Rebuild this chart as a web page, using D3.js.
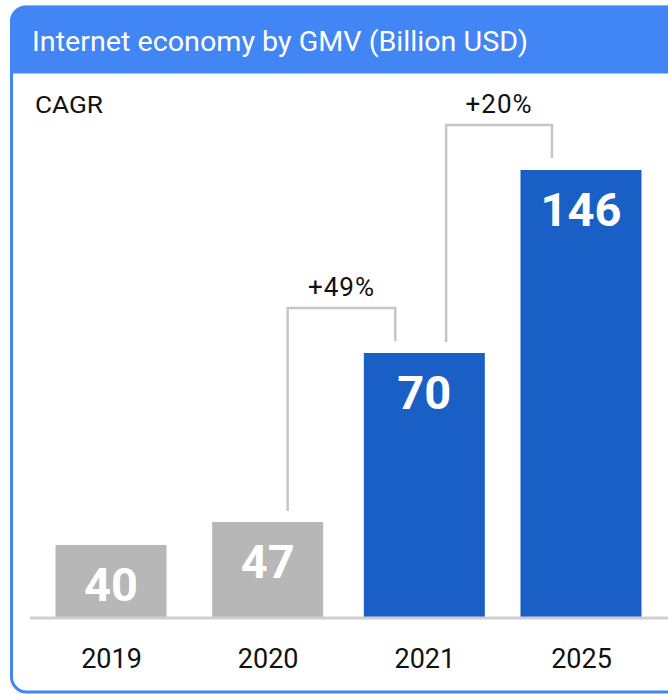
<!DOCTYPE html>
<html><head><meta charset="utf-8">
<script src="https://cdn.jsdelivr.net/npm/d3@7"></script>
<style>body{margin:0;background:#fff;overflow:hidden}</style>
</head><body>
<svg id="c" width="668" height="694"></svg>
<script>
const title = "Internet economy by GMV (Billion USD)";
const years = ["2019", "2020", "2021", "2025"];
const gmv = [40, 47, 70, 146];
const barKind = ["past", "past", "recent", "forecast"];
const cagrLabels = ["+49%", "+20%"];
const cagrPairs = [[1, 2], [2, 3]];
const sideLabel = "CAGR";

const svg = d3.select("#c");
const W = 668, H = 694;
const blue = "#4285F4", barBlue = "#1A5FC6", grey = "#B7B7B7", lineGrey = "#C6C6C6";
const font = "Roboto, 'Open Sans', sans-serif";

// card
const card = svg.append("g");
card.append("rect").attr("x", 11.5).attr("y", 7).attr("width", W + 40).attr("height", H - 9)
  .attr("rx", 15).attr("fill", "#fff").attr("stroke", blue).attr("stroke-width", 3);
svg.append("clipPath").attr("id", "hc").append("rect")
  .attr("x", 10).attr("y", 5.5).attr("width", W + 40).attr("height", 68);
card.append("rect").attr("x", 10).attr("y", 5.5).attr("width", W + 40).attr("height", 100)
  .attr("rx", 16).attr("fill", blue).attr("clip-path", "url(#hc)");
card.append("text").attr("x", 32).attr("y", 51).text(title)
  .attr("fill", "#fff").attr("font-family", font).attr("font-size", 27)
  .attr("textLength", 496).attr("lengthAdjust", "spacingAndGlyphs");

svg.append("text").attr("x", 35).attr("y", 113).text(sideLabel)
  .attr("font-family", font).attr("font-size", 24).attr("fill", "#111")
  .attr("textLength", 68).attr("lengthAdjust", "spacingAndGlyphs");

// scales
const baseY = 617;
const x = d3.scalePoint().domain(years).range([111, 581]);
// infographic: bars are not drawn to a linear scale
const y = d3.scaleLinear().domain([0, ...gmv]).range([baseY, 545, 522, 353, 170]);
const bw = d => d.kind === "past" ? 111 : 121;

const data = years.map((yr, i) => ({ yr, v: gmv[i], kind: barKind[i] }));

svg.selectAll("rect.bar").data(data).join("rect").attr("class", "bar")
  .attr("x", d => x(d.yr) - bw(d) / 2).attr("width", d => bw(d))
  .attr("y", d => y(d.v)).attr("height", d => baseY - y(d.v))
  .attr("fill", d => d.kind === "past" ? grey : barBlue);

svg.append("line").attr("x1", 30).attr("x2", W).attr("y1", baseY + 1).attr("y2", baseY + 1)
  .attr("stroke", "#CFCFCF").attr("stroke-width", 3);

svg.selectAll("text.val").data(data).join("text").attr("class", "val")
  .attr("x", d => x(d.yr)).attr("y", d => y(d.v) + 39)
  .attr("text-anchor", "middle").attr("dominant-baseline", "central")
  .attr("font-family", font).attr("font-weight", 700).attr("font-size", 47)
  .attr("fill", "#fff").text(d => d.v);

const xAxis = d3.axisBottom(x).tickSize(0).tickPadding(0);
const ax = svg.append("g").attr("transform", `translate(0,${baseY + 32})`).call(xAxis);
ax.select(".domain").remove();
ax.selectAll("text").attr("font-family", font).attr("font-size", 27).attr("fill", "#111")
  .attr("dy", "0.71em");

// CAGR brackets
cagrPairs.forEach(([a, b], i) => {
  const da = data[a], db = data[b];
  const xl = x(da.yr) + bw(da) * 0.18;
  const xr = x(db.yr) - bw(db) * 0.24;
  const top = Math.min(y(da.v), y(db.v)) - 45;
  const p = d3.path();
  p.moveTo(xl, y(da.v) - 11);
  p.lineTo(xl, top);
  p.lineTo(xr, top);
  p.lineTo(xr, y(db.v) - 12);
  svg.append("path").attr("d", p.toString()).attr("fill", "none")
    .attr("stroke", lineGrey).attr("stroke-width", 2.5);
  svg.append("text").attr("x", (xl + xr) / 2).attr("y", top - 12)
    .attr("text-anchor", "middle").attr("font-family", font).attr("font-size", 26)
    .attr("fill", "#111").attr("letter-spacing", 1).text(cagrLabels[i]);
});
</script>
</body></html>
